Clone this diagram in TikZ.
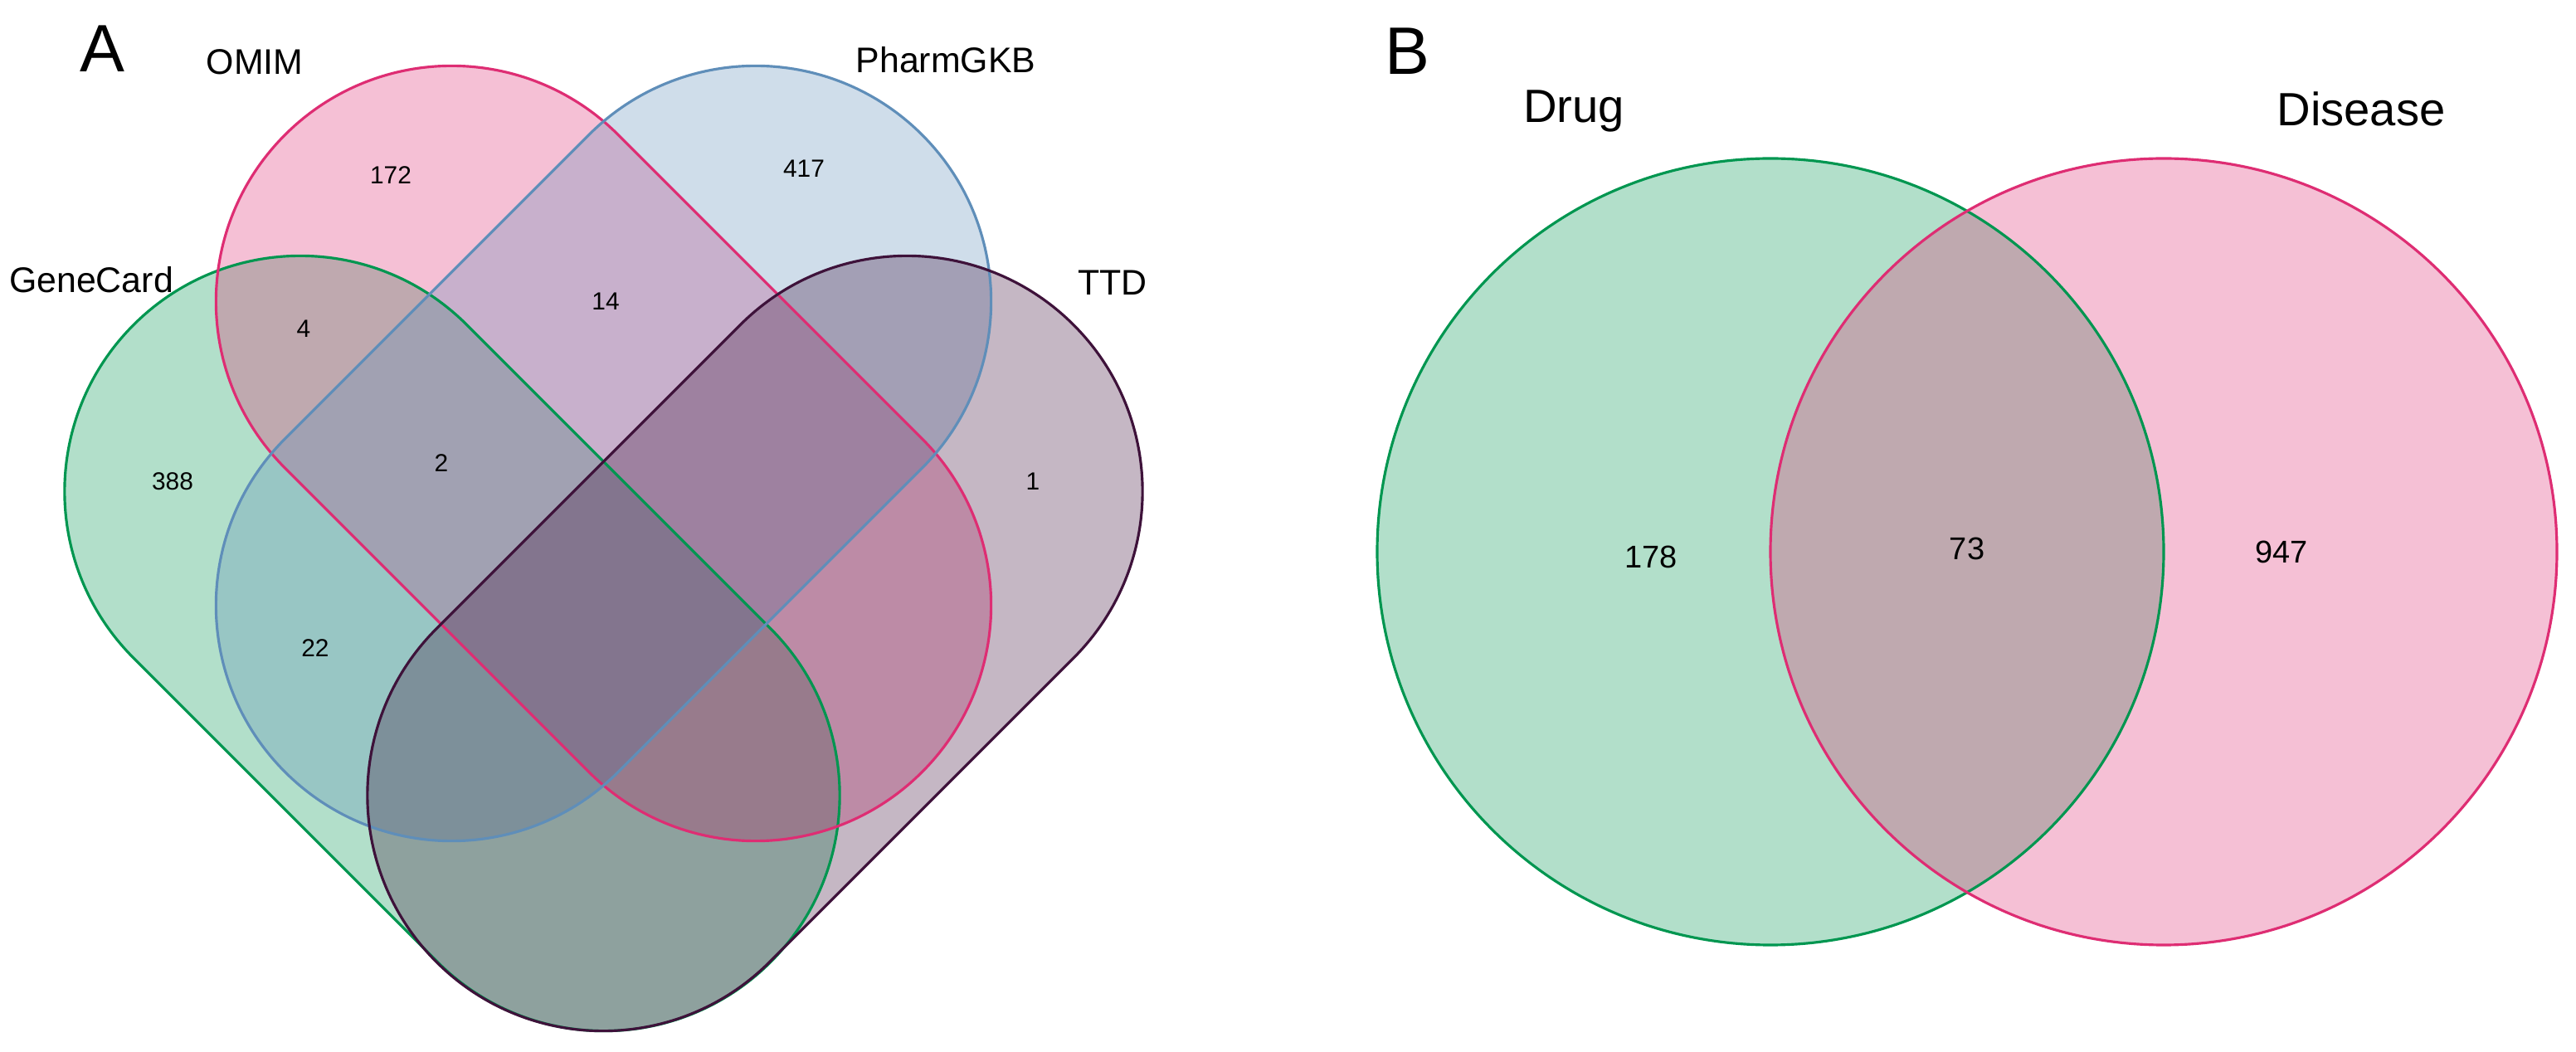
\documentclass[tikz,border=0pt]{standalone}
\usepackage{fontspec}
\setmainfont{Liberation Sans}
\definecolor{gcgreen}{RGB}{0,150,80}
\definecolor{omimpink}{RGB}{222,45,115}
\definecolor{pgkbblue}{RGB}{95,142,185}
\definecolor{ttdplum}{RGB}{62,18,58}
\tikzset{
  vennfill/.style={fill opacity=0.3},
  vennline/.style={line width=0.9pt},
  stadium/.pic={
    \path[pic actions] (-2.59,2.84) -- (2.59,2.84) arc[start angle=90,end angle=-90,radius=2.84]
      -- (-2.59,-2.84) arc[start angle=270,end angle=90,radius=2.84] -- cycle;},
  panel/.style={font=\fontsize{23}{28}\selectfont,anchor=base},
  setname/.style={font=\fontsize{12.2}{14}\selectfont,anchor=base},
  cnt/.style={font=\fontsize{8.5}{10}\selectfont,anchor=base},
  bigname/.style={font=\fontsize{16}{19}\selectfont,anchor=base},
  bigcnt/.style={font=\fontsize{10.8}{13}\selectfont,anchor=base}
}
\begin{document}
\begin{tikzpicture}
\useasboundingbox (0,0) rectangle (31.05,-12.68);
% A: four stadium sets, fills first, then outlines
\foreach \cx/\cy/\ang/\col in {5.45/-7.755/-45/gcgreen,7.275/-5.465/-45/omimpink,
  7.275/-5.465/45/pgkbblue,9.10/-7.755/45/ttdplum}
  \pic[vennfill,fill=\col,rotate=\ang] at (\cx,\cy) {stadium};
\foreach \cx/\cy/\ang/\col in {5.45/-7.755/-45/gcgreen,7.275/-5.465/-45/omimpink,
  7.275/-5.465/45/pgkbblue,9.10/-7.755/45/ttdplum}
  \pic[vennline,draw=\col,rotate=\ang] at (\cx,\cy) {stadium};
\node[panel] (lblA) at (1.23,-0.87) {A};
\node[setname] (lblOMIM) at (3.07,-0.90) {OMIM};
\node[setname] (lblPGKB) at (11.40,-0.88) {PharmGKB};
\node[setname] (lblGC) at (1.10,-3.53) {GeneCard};
\node[setname] (lblTTD) at (13.41,-3.56) {TTD};
\node[cnt] (n172) at (4.71,-2.22) {172};
\node[cnt] (n417) at (9.69,-2.14) {417};
\node[cnt] (n4) at (3.66,-4.07) {4};
\node[cnt] (n14) at (7.30,-3.74) {14};
\node[cnt] (n2) at (5.32,-5.69) {2};
\node[cnt] (n388) at (2.08,-5.91) {388};
\node[cnt] (n1) at (12.45,-5.91) {1};
\node[cnt] (n22) at (3.80,-7.92) {22};
% B: two circles
\fill[vennfill,gcgreen] (21.34,-6.65) circle[radius=4.74];
\fill[vennfill,omimpink] (26.08,-6.65) circle[radius=4.74];
\draw[vennline,gcgreen] (21.34,-6.65) circle[radius=4.74];
\draw[vennline,omimpink] (26.08,-6.65) circle[radius=4.74];
\node[panel] (lblB) at (16.96,-0.90) {B};
\node[bigname] (lblDrug) at (18.97,-1.48) {Drug};
\node[bigname] (lblDis) at (28.46,-1.52) {Disease};
\node[bigcnt] (n178) at (19.90,-6.85) {178};
\node[bigcnt] (n73) at (23.71,-6.75) {73};
\node[bigcnt] (n947) at (27.50,-6.79) {947};
\end{tikzpicture}
\end{document}
